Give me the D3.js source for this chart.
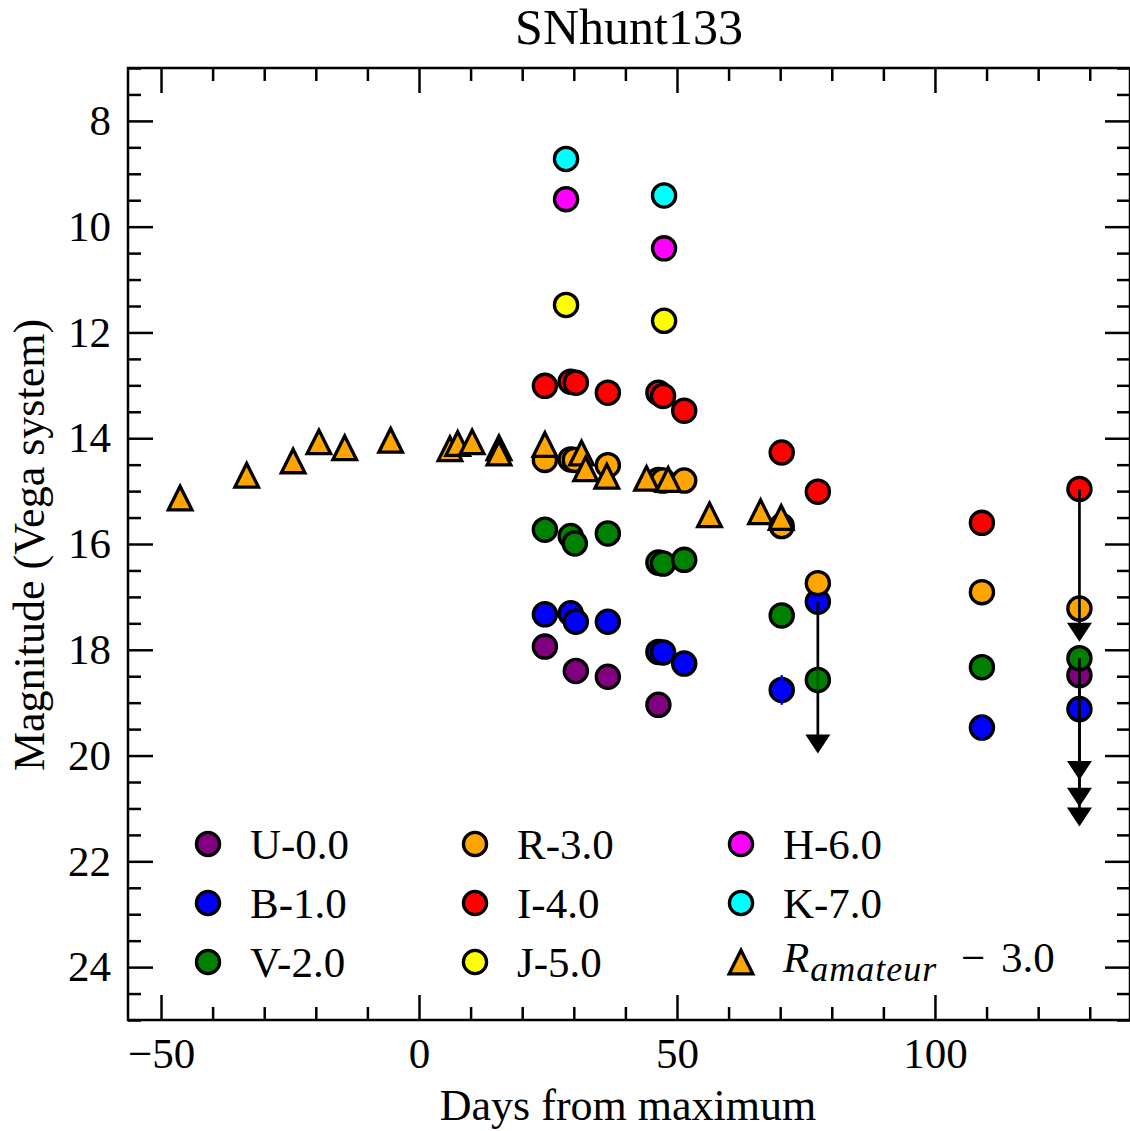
<!DOCTYPE html>
<html><head><meta charset="utf-8">
<script src="https://cdn.jsdelivr.net/npm/d3@7"></script>
<style>body{margin:0;background:#fff}svg{display:block}</style>
</head><body><div id="chart"></div>
<script>
// ---- data (days from maximum, magnitude incl. offsets) ----
const bands = ["U","B","V","R","I","J","H","K"];
const bandColors = ["#800080","#0000ff","#008000","#ffa500","#ff0000","#ffff00","#ff00ff","#00ffff"];
const legendLabels = ["U-0.0","B-1.0","V-2.0","R-3.0","I-4.0","J-5.0","H-6.0","K-7.0"];

const U = [[24.4,17.94],[30.4,18.40],[36.6,18.51],[46.4,19.04],[128.0,18.48]];
const B = [[24.4,17.33],[29.4,17.31],[30.4,17.47],[36.6,17.47],[46.4,18.04],[47.3,18.05],[51.4,18.26],[70.3,18.76],[77.3,17.09],[109.1,19.47],[128.0,19.12]];
const V = [[24.4,15.73],[29.4,15.85],[30.2,15.99],[36.6,15.80],[46.4,16.35],[47.3,16.37],[51.4,16.30],[70.3,17.35],[77.3,18.57],[109.1,18.33],[128.0,18.16]];
const R = [[24.4,14.41],[29.4,14.40],[30.2,14.41],[36.6,14.51],[46.4,14.79],[47.3,14.80],[51.4,14.80],[70.3,15.66],[77.3,16.74],[109.1,16.91],[128.0,17.22]];
const I = [[24.4,13.01],[29.4,12.93],[30.4,12.95],[36.6,13.14],[46.4,13.14],[47.3,13.20],[51.4,13.48],[70.3,14.27],[77.3,15.01],[109.1,15.60],[128.0,14.96]];
const J = [[28.5,11.48],[47.5,11.78]];
const H = [[28.5,9.48],[47.5,10.41]];
const K = [[28.5,8.72],[47.5,9.41]];
const bandData = [U,B,V,R,I,J,H,K];

// error bars: [day, mag, err]
const errB = [[70.3,18.76,0.28],[109.1,19.47,0.23]];
const errV = [[77.3,18.57,0.20]];
// upper limits: [day, mag, arrow tip mag]
const limU = [[128.0,18.48,20.97]];
const limB = [[77.3,17.09,19.96],[128.0,19.12,21.34]];
const limV = [[128.0,18.16,20.46]];
const limI = [[128.0,14.96,17.85]];
const bandErr = {B:errB, V:errV};
const bandLim = {U:limU, B:limB, V:limV, I:limI};

// amateur R - 3.0
const Ramateur = [[-46.3,15.13],[-33.4,14.70],[-24.4,14.43],[-19.4,14.07],[-14.4,14.18],[-5.5,14.04],
  [6.0,14.20],[7.5,14.10],[10.3,14.07],[15.5,14.18],[15.5,14.28],[24.4,14.12],[31.5,14.28],[32.3,14.58],
  [36.4,14.72],[44.1,14.76],[48.3,14.78],[56.3,15.45],[66.2,15.39],[70.2,15.50]];

const xMajor = [-50,0,50,100];
const yMajor = [8,10,12,14,16,18,20,22,24];

// ---- layout ----
const W = 1130, Hh = 1131;
const L = 128, Rr = 1130, T = 68, Bt = 1020;
const FONT = "'Liberation Serif', 'Times New Roman', serif";

const svg = d3.select("#chart").append("svg").attr("width", W).attr("height", Hh)
  .style("font-family", FONT);

const x = d3.scaleLinear().domain([-56.4, 137.8]).range([L, Rr]);
const y = d3.scaleLinear().domain([7, 25]).range([T, Bt]);

const xMinor = d3.range(-50, 137, 10).filter(v => !xMajor.includes(v));
const yMinor = d3.range(7, 25.01, 0.5).filter(v => !yMajor.includes(v));

function styleAxis(g){
  g.select(".domain").remove();
  g.selectAll(".tick line").attr("stroke","#000").attr("stroke-width",2.5);
  g.selectAll("text").attr("fill","#000").style("font-family",FONT).style("font-size","43px");
}
// bottom
svg.append("g").attr("transform",`translate(0,${Bt})`)
  .call(d3.axisBottom(x).tickValues(xMajor).tickSize(-25).tickPadding(17).tickFormat(d3.format("d")))
  .call(styleAxis);
svg.append("g").attr("transform",`translate(0,${Bt})`)
  .call(d3.axisBottom(x).tickValues(xMinor).tickSize(-13).tickFormat(""))
  .call(styleAxis);
// top
svg.append("g").attr("transform",`translate(0,${T})`)
  .call(d3.axisTop(x).tickValues(xMajor).tickSize(-25).tickFormat(""))
  .call(styleAxis);
svg.append("g").attr("transform",`translate(0,${T})`)
  .call(d3.axisTop(x).tickValues(xMinor).tickSize(-13).tickFormat(""))
  .call(styleAxis);
// left
svg.append("g").attr("transform",`translate(${L},0)`)
  .call(d3.axisLeft(y).tickValues(yMajor).tickSize(-25).tickPadding(17).tickFormat(d3.format("d")))
  .call(styleAxis);
svg.append("g").attr("transform",`translate(${L},0)`)
  .call(d3.axisLeft(y).tickValues(yMinor).tickSize(-13).tickFormat(""))
  .call(styleAxis);
// right
svg.append("g").attr("transform",`translate(${Rr},0)`)
  .call(d3.axisRight(y).tickValues(yMajor).tickSize(-25).tickFormat(""))
  .call(styleAxis);
svg.append("g").attr("transform",`translate(${Rr},0)`)
  .call(d3.axisRight(y).tickValues(yMinor).tickSize(-13).tickFormat(""))
  .call(styleAxis);

const plot = svg.append("g");
const rC = 11.6, sw = 3.3;

function arrowHead(g, cx, tipY){
  const hw = 12.5, hh = 19;
  g.append("path").attr("d", `M${cx-hw},${tipY-hh}L${cx+hw},${tipY-hh}L${cx},${tipY}Z`).attr("fill","#000");
}

bands.forEach((b, i) => {
  const col = bandColors[i];
  plot.append("g").selectAll("circle").data(bandData[i]).join("circle")
    .attr("cx", d => x(d[0])).attr("cy", d => y(d[1])).attr("r", rC)
    .attr("fill", col).attr("stroke","#000").attr("stroke-width", sw);
  if (bandErr[b]) {
    plot.append("g").selectAll("line").data(bandErr[b]).join("line")
      .attr("x1", d => x(d[0])).attr("x2", d => x(d[0]))
      .attr("y1", d => y(d[1]-d[2])).attr("y2", d => y(d[1]+d[2]))
      .attr("stroke", b === "V" ? "#005a00" : col).attr("stroke-width", 2.5);
  }
  if (bandLim[b]) {
    const g = plot.append("g");
    bandLim[b].forEach(d => {
      g.append("line").attr("x1", x(d[0])).attr("x2", x(d[0]))
        .attr("y1", y(d[1])).attr("y2", y(d[2]) - 10)
        .attr("stroke","#000").attr("stroke-width", 2.7);
      arrowHead(g, x(d[0]), y(d[2]));
    });
  }
});

const s = 11.8;
function triPath(cx, cy){ return `M${cx},${cy-s}L${cx+s},${cy+s}L${cx-s},${cy+s}Z`; }
plot.append("g").selectAll("path").data(Ramateur).join("path")
  .attr("d", d => triPath(x(d[0]), y(d[1])))
  .attr("fill","#ffa500").attr("stroke","#000").attr("stroke-width", sw).attr("stroke-linejoin","miter");

// ---- spines ----
svg.append("rect").attr("x", L).attr("y", T).attr("width", Rr-L).attr("height", Bt-T)
  .attr("fill","none").attr("stroke","#000").attr("stroke-width", 2.5);

// ---- titles ----
svg.append("text").attr("x", 629).attr("y", 44).attr("text-anchor","middle")
  .style("font-size","50px").text("SNhunt133");
svg.append("text").attr("x", 628).attr("y", 1120).attr("text-anchor","middle")
  .style("font-size","44px").text("Days from maximum");
svg.append("text").attr("transform","translate(44,545) rotate(-90)").attr("text-anchor","middle")
  .style("font-size","44px").text("Magnitude (Vega system)");

// ---- legend ----
const legCols = [208, 475, 741];
const legRows = [844, 903, 962];
const leg = svg.append("g");
bands.forEach((b, i) => {
  const cx = legCols[Math.floor(i/3)], cy = legRows[i%3];
  leg.append("circle").attr("cx", cx).attr("cy", cy).attr("r", rC)
    .attr("fill", bandColors[i]).attr("stroke","#000").attr("stroke-width", sw);
  leg.append("text").attr("x", cx + 42).attr("y", cy + 14.5).style("font-size","43px").text(legendLabels[i]);
});
{
  const cx = legCols[2], cy = legRows[2];
  leg.append("path").attr("d", triPath(cx, cy)).attr("fill","#ffa500").attr("stroke","#000").attr("stroke-width", sw);
  const t = leg.append("text").attr("x", cx + 42).attr("y", cy + 10).style("font-size","43px");
  t.append("tspan").style("font-style","italic").text("R");
  t.append("tspan").style("font-style","italic").style("font-size","36px").style("letter-spacing","1px").attr("dy", 9).attr("dx", 1).text("amateur");
  t.append("tspan").attr("dy", -9).attr("x", cx + 42 + 178).text("\u2212");
  t.append("tspan").attr("x", cx + 42 + 218).text("3.0");
}
</script></body></html>
